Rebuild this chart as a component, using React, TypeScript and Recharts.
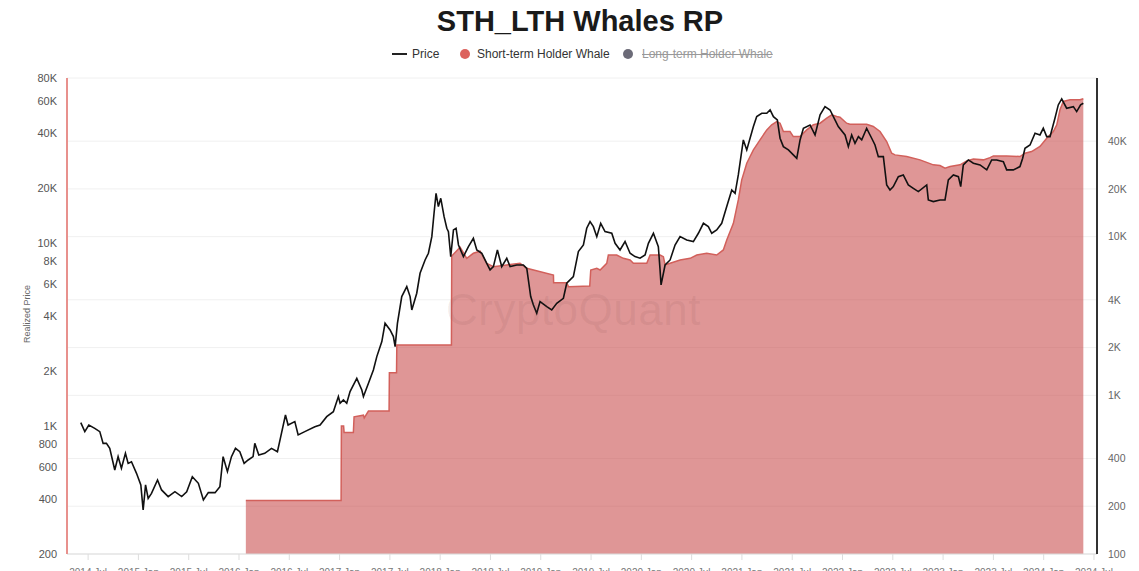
import { Area, CartesianGrid, ComposedChart, Line, XAxis, YAxis } from 'recharts'

const priceYears = [
  2014.427, 2014.467, 2014.507, 2014.566, 2014.616, 2014.649, 2014.682, 2014.715, 2014.765, 2014.798,
  2014.831, 2014.871, 2014.898, 2014.931, 2014.981, 2015.024, 2015.047, 2015.071, 2015.097, 2015.13,
  2015.19, 2015.23, 2015.296, 2015.363, 2015.43, 2015.48, 2015.536, 2015.596, 2015.646, 2015.695,
  2015.762, 2015.81, 2015.842, 2015.885, 2015.925, 2015.965, 2016.008, 2016.051, 2016.091, 2016.14,
  2016.157, 2016.197, 2016.256, 2016.323, 2016.382, 2016.415, 2016.462, 2016.488, 2016.555, 2016.588,
  2016.654, 2016.754, 2016.806, 2016.872, 2016.938, 2016.988, 2017.005, 2017.038, 2017.071, 2017.104,
  2017.171, 2017.221, 2017.237, 2017.287, 2017.336, 2017.37, 2017.42, 2017.452, 2017.502, 2017.535,
  2017.552, 2017.575, 2017.618, 2017.668, 2017.701, 2017.718, 2017.767, 2017.8, 2017.85, 2017.883,
  2017.917, 2017.939, 2017.959, 2017.982, 2018.006, 2018.039, 2018.066, 2018.082, 2018.105, 2018.132,
  2018.158, 2018.182, 2018.231, 2018.281, 2018.33, 2018.364, 2018.414, 2018.463, 2018.496, 2018.529,
  2018.569, 2018.612, 2018.662, 2018.695, 2018.762, 2018.827, 2018.861, 2018.9, 2018.927, 2018.96,
  2018.993, 2019.06, 2019.109, 2019.159, 2019.225, 2019.258, 2019.324, 2019.374, 2019.424, 2019.457,
  2019.49, 2019.523, 2019.557, 2019.596, 2019.639, 2019.706, 2019.739, 2019.788, 2019.838, 2019.888,
  2019.937, 2019.987, 2020.037, 2020.07, 2020.12, 2020.169, 2020.186, 2020.196, 2020.236, 2020.286,
  2020.335, 2020.385, 2020.451, 2020.517, 2020.567, 2020.617, 2020.666, 2020.7, 2020.749, 2020.799,
  2020.849, 2020.899, 2020.932, 2020.964, 2021.014, 2021.048, 2021.114, 2021.147, 2021.197, 2021.247,
  2021.28, 2021.313, 2021.352, 2021.379, 2021.412, 2021.462, 2021.511, 2021.545, 2021.578, 2021.611,
  2021.677, 2021.727, 2021.777, 2021.826, 2021.876, 2021.909, 2021.958, 2022.025, 2022.058, 2022.091,
  2022.124, 2022.158, 2022.191, 2022.24, 2022.29, 2022.323, 2022.356, 2022.406, 2022.439, 2022.472,
  2022.505, 2022.555, 2022.604, 2022.654, 2022.704, 2022.754, 2022.837, 2022.853, 2022.903, 2022.969,
  2023.019, 2023.052, 2023.102, 2023.152, 2023.175, 2023.201, 2023.251, 2023.301, 2023.367, 2023.434,
  2023.483, 2023.533, 2023.599, 2023.632, 2023.698, 2023.764, 2023.791, 2023.814, 2023.864, 2023.914,
  2023.963, 2023.996, 2024.03, 2024.063, 2024.112, 2024.145, 2024.179, 2024.228, 2024.295, 2024.328,
  2024.367, 2024.394,
]

const priceValues = [
  1045, 933, 1014, 973, 933, 805, 805, 756, 576, 681,
  588, 710, 626, 639, 552, 477, 348, 477, 403, 429,
  508, 448, 412, 438, 412, 438, 529, 487, 395, 433,
  433, 467, 681, 564, 681, 756, 725, 626, 653, 681,
  805, 695, 710, 756, 725, 876, 1151, 1014, 1058, 895,
  933, 993, 1015, 1127, 1200, 1450, 1333, 1390, 1333, 1544,
  1825, 1576, 1450, 1715, 2028, 2399, 2898, 3648, 3355, 3086,
  2721, 3648, 5106, 5787, 5106, 4316, 5326, 6848, 8100, 8810,
  10862, 14580, 18740, 15860, 17600, 13970, 12070, 11570, 8450, 11820,
  12070, 9780, 8450, 9580, 10640, 9180, 8810, 7766, 7145, 7450,
  9180, 7450, 8277, 7450, 7600, 7600, 7290, 5106, 4596, 4140,
  4795, 4500, 4316, 4692, 5000, 6040, 6566, 9000, 9780, 12070,
  13120, 12320, 10860, 12850, 11570, 11330, 9990, 9180, 10210, 8810,
  8450, 8277, 8627, 9990, 11330, 9580, 7145, 5912, 7600, 8100,
  9780, 10860, 10420, 10210, 11330, 12850, 12320, 11330, 11820, 12850,
  15860, 19550, 18740, 23600, 36700, 32360, 43400, 49200, 51300, 51300,
  53500, 49200, 47200, 37480, 33730, 32360, 30380, 29120, 36700, 42480,
  44300, 39080, 50260, 55800, 53500, 49200, 43400, 39080, 33730, 39080,
  35180, 38260, 36700, 42480, 37480, 34440, 29740, 29740, 20820, 19550,
  20380, 23120, 23600, 20820, 19960, 19140, 20820, 17240, 16880, 17240,
  17240, 22170, 23600, 23120, 20380, 26780, 28520, 27350, 26780, 25160,
  28520, 28520, 27930, 25160, 25160, 26240, 29120, 33040, 34440, 39900,
  39080, 42480, 38260, 38260, 48200, 57000, 61500, 54680, 55800, 52400,
  57000, 58200,
]

const rpYears = [
  2016.068, 2017.015, 2017.018, 2017.04, 2017.045, 2017.137, 2017.144, 2017.237, 2017.245, 2017.287,
  2017.492, 2017.495, 2017.566, 2017.569, 2018.112, 2018.115, 2018.198, 2018.264, 2018.33, 2018.397,
  2018.463, 2018.529, 2018.662, 2018.794, 2018.861, 2019.126, 2019.128, 2019.258, 2019.275, 2019.487,
  2019.497, 2019.557, 2019.59, 2019.656, 2019.672, 2019.755, 2019.821, 2019.888, 2019.921, 2020.054,
  2020.087, 2020.186, 2020.219, 2020.236, 2020.286, 2020.385, 2020.485, 2020.551, 2020.65, 2020.749,
  2020.815, 2020.849, 2020.915, 2020.964, 2020.998, 2021.048, 2021.081, 2021.114, 2021.18, 2021.247,
  2021.296, 2021.346, 2021.379, 2021.412, 2021.478, 2021.511, 2021.578, 2021.644, 2021.71, 2021.777,
  2021.843, 2021.893, 2021.942, 2021.975, 2022.041, 2022.074, 2022.24, 2022.306, 2022.373, 2022.439,
  2022.489, 2022.522, 2022.638, 2022.77, 2022.903, 2022.969, 2023.019, 2023.069, 2023.168, 2023.235,
  2023.301, 2023.4, 2023.466, 2023.5, 2023.632, 2023.764, 2023.814, 2023.88, 2023.963, 2024.03,
  2024.096, 2024.13, 2024.162, 2024.195, 2024.262, 2024.361, 2024.394,
]

const rpValues = [
  217, 217, 640, 640, 583, 583, 732, 750, 720, 796,
  796, 1387, 1387, 2074, 2074, 7557, 8577, 7307, 7856, 8100,
  6794, 6470, 6630, 6794, 6316, 5733, 5126, 5126, 4840, 4880,
  6163, 6314, 6163, 6793, 7666, 7666, 7302, 7127, 6793, 6793,
  7666, 7666, 7482, 6630, 6793, 7127, 7302, 7666, 7852, 7666,
  8244, 9527, 12140, 17040, 22800, 29040, 31990, 35240, 40750, 47100,
  50700, 53180, 51900, 46000, 46000, 42760, 42760, 47100, 50700, 51900,
  55850, 58600, 57160, 56650, 51900, 51170, 51170, 49460, 46000, 39780,
  33570, 32770, 31990, 30480, 28350, 28060, 27000, 27660, 28350, 30030,
  30900, 30480, 31500, 32290, 32290, 31990, 33570, 34400, 37000, 41750,
  46000, 50660, 63000, 71100, 72880, 72880, 73960,
]

const xTicks = [
  2014.5, 2015, 2015.5, 2016, 2016.5, 2017, 2017.5, 2018, 2018.5, 2019, 2019.5,
  2020, 2020.5, 2021, 2021.5, 2022, 2022.5, 2023, 2023.5, 2024, 2024.5,
]
const leftTicks = [200, 400, 600, 800, 1000, 2000, 4000, 6000, 8000, 10000, 20000, 40000, 60000, 80000]
const rightTicks = [100, 200, 400, 1000, 2000, 4000, 10000, 20000, 40000]

const priceData = priceYears.map((t, i) => ({ t, v: priceValues[i] }))
const rpData = rpYears.map((t, i) => ({ t, v: rpValues[i] }))

const font = '"Liberation Sans", Arial, Helvetica, sans-serif'

const fmtDate = (v: number) => `${Math.floor(v)} ${v % 1 ? 'Jul' : 'Jan'}`
const fmtPrice = (v: number) => (v >= 1000 ? `${v / 1000}K` : `${v}`)

export default function App() {
  return (
    <div
      style={{
        position: 'absolute',
        left: 0,
        top: 0,
        width: 1139,
        height: 571,
        overflow: 'hidden',
        background: '#fff',
        fontFamily: font,
      }}
    >
      <div
        style={{
          position: 'absolute',
          top: 5,
          left: 0,
          width: 1160,
          textAlign: 'center',
          fontSize: 29,
          fontWeight: 700,
          color: '#1a1a1a',
          lineHeight: '33px',
        }}
      >
        STH_LTH Whales RP
      </div>

      {/* legend */}
      <div style={{ position: 'absolute', top: 46, left: 0, width: 1139, height: 16, fontSize: 12, color: '#333' }}>
        <div style={{ position: 'absolute', left: 392, top: 7, width: 15, height: 2, background: '#222' }} />
        <span style={{ position: 'absolute', left: 412, top: 1 }}>Price</span>
        <div style={{ position: 'absolute', left: 460, top: 3, width: 10, height: 10, borderRadius: 5, background: '#dc625d' }} />
        <span style={{ position: 'absolute', left: 477, top: 1 }}>Short-term Holder Whale</span>
        <div style={{ position: 'absolute', left: 623, top: 3, width: 10, height: 10, borderRadius: 5, background: '#6c6b78' }} />
        <span style={{ position: 'absolute', left: 642, top: 1, color: '#999', textDecoration: 'line-through' }}>
          Long-term Holder Whale
        </span>
      </div>

      <div
        style={{
          position: 'absolute',
          left: 27 - 50,
          top: 315 - 6,
          width: 100,
          textAlign: 'center',
          fontSize: 9,
          color: '#666',
          transform: 'rotate(-90deg)',
        }}
      >
        Realized Price
      </div>

      <div style={{ position: 'absolute', top: 0, left: 0 }}>
        <ComposedChart width={1139} height={590} margin={{ top: 78, right: 0, bottom: 0, left: 0 }}>
          <CartesianGrid yAxisId="right" vertical={false} stroke="#f0f0f0" />
          <XAxis
            dataKey="t"
            type="number"
            domain={[2014.29, 2024.53]}
            allowDataOverflow
            ticks={xTicks}
            interval={0}
            tickFormatter={fmtDate}
            height={36}
            axisLine={{ stroke: '#dddddd' }}
            tickLine={{ stroke: '#dddddd' }}
            tickMargin={9}
            tick={{ fill: '#777', fontSize: 10, fontFamily: font }}
          />
          <YAxis
            yAxisId="left"
            type="number"
            scale="log"
            domain={[200, 80000]}
            allowDataOverflow
            ticks={leftTicks}
            interval={0}
            tickFormatter={fmtPrice}
            width={67}
            axisLine={{ stroke: '#e8918d', strokeWidth: 2 }}
            tickLine={false}
            tickMargin={4}
            tick={{ fill: '#555', fontSize: 11, fontFamily: font }}
          />
          <YAxis
            yAxisId="right"
            orientation="right"
            type="number"
            scale="log"
            domain={[100, 100000]}
            allowDataOverflow
            ticks={rightTicks}
            interval={0}
            tickFormatter={fmtPrice}
            width={42}
            axisLine={{ stroke: '#333', strokeWidth: 2 }}
            tickLine={false}
            tickMargin={5}
            tick={{ fill: '#666', fontSize: 10.5, fontFamily: font }}
          />
          <Line
            yAxisId="left"
            data={priceData}
            dataKey="v"
            name="Price"
            type="linear"
            stroke="#111"
            strokeWidth={1.6}
            dot={false}
            isAnimationActive={false}
          />
          <Area
            yAxisId="right"
            data={rpData}
            dataKey="v"
            name="Short-term Holder Whale"
            type="linear"
            baseValue={100}
            stroke="#d2605b"
            strokeWidth={1.5}
            fill="#c84a4a"
            fillOpacity={0.58}
            isAnimationActive={false}
          />
        </ComposedChart>
      </div>

      <div
        style={{
          position: 'absolute',
          left: 446,
          top: 285,
          fontSize: 44,
          color: 'rgba(120, 70, 70, 0.1)',
          letterSpacing: 0.5,
          pointerEvents: 'none',
        }}
      >
        CryptoQuant
      </div>
    </div>
  )
}
